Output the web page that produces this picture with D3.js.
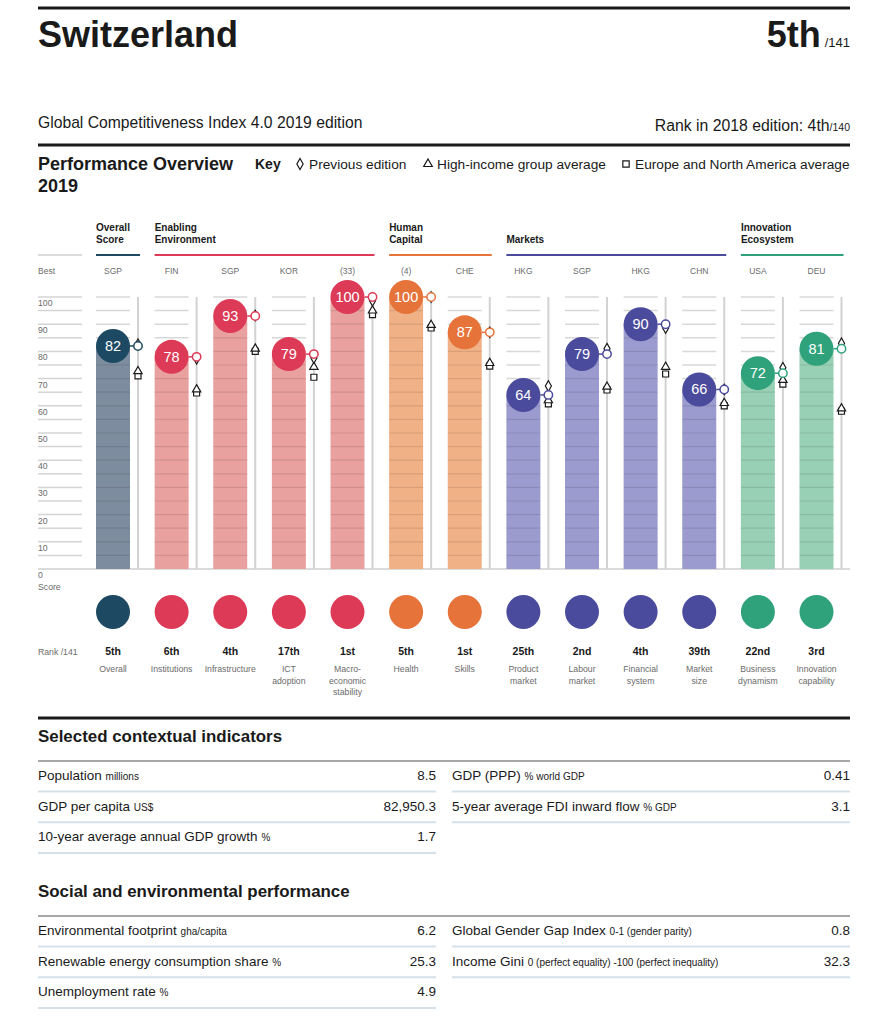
<!DOCTYPE html>
<html>
<head>
<meta charset="utf-8">
<script src="https://cdn.jsdelivr.net/npm/d3@7"></script>
<style>
  html, body { margin: 0; padding: 0; background: #ffffff; }
  svg { display: block; font-family: "Liberation Sans", Arial, Helvetica, sans-serif; }
</style>
</head>
<body>
<svg id="chart" width="887" height="1024"></svg>
<script>
// ---------------- DATA ----------------
const pillars = ["Overall", "Institutions", "Infrastructure", "ICT adoption", "Macroeconomic stability", "Health", "Skills", "Product market", "Labour market", "Financial system", "Market size", "Business dynamism", "Innovation capability"];
const pillarLabels = [["Overall"], ["Institutions"], ["Infrastructure"], ["ICT", "adoption"], ["Macro-", "economic", "stability"], ["Health"], ["Skills"], ["Product", "market"], ["Labour", "market"], ["Financial", "system"], ["Market", "size"], ["Business", "dynamism"], ["Innovation", "capability"]];
const pillarGroup = ["overall", "enabling", "enabling", "enabling", "enabling", "human", "human", "markets", "markets", "markets", "markets", "innovation", "innovation"];
const scores = [82, 78, 93, 79, 100, 100, 87, 64, 79, 90, 66, 72, 81];
const previousEdition = [82.6, 77.3, 93.2, 77.6, 98.6, 100, 87, 67.3, 81, 88.6, 66, 74, 83];
const highIncomeAvg = [72.7, 66, 81, 74.3, 95, 89.7, 75.7, 62, 67, 74.3, 61, 69.5, 59];
const europeNAAvg = [71, 64.7, 80, 70.5, 93.5, 88.6, 74.6, 60.7, 65.8, 71.7, 60, 68, 58];
const ranks = ["5th", "6th", "4th", "17th", "1st", "5th", "1st", "25th", "2nd", "4th", "39th", "22nd", "3rd"];
const bestPerformers = ["SGP", "FIN", "SGP", "KOR", "(33)", "(4)", "CHE", "HKG", "SGP", "HKG", "CHN", "USA", "DEU"];
const yTickValues = [0, 10, 20, 30, 40, 50, 60, 70, 80, 90, 100];
const gridValues = d3.range(5, 101, 5);

const groupKeys = ["overall", "enabling", "human", "markets", "innovation"];
const groupTitles = [["Overall", "Score"], ["Enabling", "Environment"], ["Human", "Capital"], ["Markets"], ["Innovation", "Ecosystem"]];
const groupDark = ["#1d4a62", "#dc3a56", "#e5733a", "#4b4b9d", "#2fa27c"];
const groupBar = ["#7e8c9f", "#e9a19f", "#f1b186", "#9b9bd0", "#98d0b5"];

const contextLeft = [["Population", "millions", "8.5"], ["GDP per capita", "US$", "82,950.3"], ["10-year average annual GDP growth", "%", "1.7"]];
const contextRight = [["GDP (PPP)", "% world GDP", "0.41"], ["5-year average FDI inward flow", "% GDP", "3.1"]];
const socialLeft = [["Environmental footprint", "gha/capita", "6.2"], ["Renewable energy consumption share", "%", "25.3"], ["Unemployment rate", "%", "4.9"]];
const socialRight = [["Global Gender Gap Index", "0-1 (gender parity)", "0.8"], ["Income Gini", "0 (perfect equality) -100 (perfect inequality)", "32.3"]];

// ---------------- LAYOUT ----------------
const svg = d3.select("#chart");
const L = 38, R = 850;
const ink = "#1a1a1a", grey = "#6b6b6b";
const gIdx = g => groupKeys.indexOf(g);

const x = d3.scalePoint().domain(pillars).range([113, 816.5]);
const y = d3.scaleLinear().domain([0, 100]).range([569, 297]);
const barW = 34, lineOff = 25;

// Header
svg.append("line").attr("x1", L).attr("x2", R).attr("y1", 8).attr("y2", 8).attr("stroke", ink).attr("stroke-width", 3);
svg.append("text").attr("x", L).attr("y", 47).attr("font-size", 36).attr("font-weight", "bold").attr("fill", ink).text("Switzerland");
const rk = svg.append("text").attr("x", R).attr("y", 47).attr("text-anchor", "end").attr("fill", ink);
rk.append("tspan").attr("font-size", 36).attr("font-weight", "bold").text("5th");
rk.append("tspan").attr("font-size", 13).attr("dx", 4).text("/141");

svg.append("text").attr("x", L).attr("y", 128).attr("font-size", 15.7).attr("fill", ink).text("Global Competitiveness Index 4.0 2019 edition");
const r18 = svg.append("text").attr("x", R).attr("y", 131).attr("text-anchor", "end").attr("fill", ink);
r18.append("tspan").attr("font-size", 15.8).text("Rank in 2018 edition: 4th");
r18.append("tspan").attr("font-size", 10.5).text("/140");

svg.append("line").attr("x1", L).attr("x2", R).attr("y1", 145).attr("y2", 145).attr("stroke", ink).attr("stroke-width", 3);
svg.append("text").attr("x", L).attr("y", 170).attr("font-size", 18).attr("font-weight", "bold").attr("fill", ink).text("Performance Overview");
svg.append("text").attr("x", L).attr("y", 192).attr("font-size", 18).attr("font-weight", "bold").attr("fill", ink).text("2019");

// Key
const keyY = 169;
svg.append("text").attr("x", 255).attr("y", keyY).attr("font-size", 14).attr("font-weight", "bold").attr("fill", ink).text("Key");
const keyItems = [
  { sym: d3.symbolDiamond, size: 34, x: 300, label: "Previous edition" },
  { sym: d3.symbolTriangle, size: 32, x: 428, label: "High-income group average" },
  { sym: d3.symbolSquare, size: 40, x: 626, label: "Europe and North America average" }
];
keyItems.forEach(k => {
  svg.append("path").attr("d", d3.symbol(k.sym, k.size)).attr("transform", `translate(${k.x},${keyY - 5})`)
    .attr("fill", "#fff").attr("stroke", ink).attr("stroke-width", 1.2);
  svg.append("text").attr("x", k.x + 9).attr("y", keyY).attr("font-size", 13.7).attr("fill", ink).text(k.label);
});

// Group headings
svg.append("line").attr("x1", L).attr("x2", 82).attr("y1", 255).attr("y2", 255).attr("stroke", "#cfcfcf").attr("stroke-width", 1.5);
groupKeys.forEach((g, gi) => {
  const members = pillars.filter((p, i) => pillarGroup[i] === g);
  const x1 = x(members[0]) - barW / 2, x2 = x(members[members.length - 1]) + lineOff + 2;
  svg.append("line").attr("x1", x1).attr("x2", x2).attr("y1", 255).attr("y2", 255).attr("stroke", groupDark[gi]).attr("stroke-width", 2);
  const lines = groupTitles[gi];
  lines.forEach((t, li) => {
    svg.append("text").attr("x", x1).attr("y", 243 - (lines.length - 1 - li) * 12)
      .attr("font-size", 10).attr("font-weight", "bold").attr("fill", ink).text(t);
  });
});

// Best row
svg.append("text").attr("x", L).attr("y", 274).attr("font-size", 8.5).attr("fill", grey).text("Best");
svg.selectAll(".best").data(pillars).enter().append("text")
  .attr("x", d => x(d)).attr("y", 274).attr("text-anchor", "middle")
  .attr("font-size", 8.5).attr("fill", grey).text((d, i) => bestPerformers[i]);

// Left axis
const axisG = svg.append("g");
axisG.selectAll("line.grid").data(gridValues).enter().append("line")
  .attr("x1", L).attr("x2", 82).attr("y1", d => y(d)).attr("y2", d => y(d))
  .attr("stroke", "#d4d4d4").attr("stroke-width", 1.5);
axisG.selectAll("text").data(yTickValues).enter().append("text")
  .attr("x", L).attr("y", d => y(d) + 9).attr("font-size", 8.7).attr("fill", grey).text(d => d);
svg.append("text").attr("x", L).attr("y", 590).attr("font-size", 8.7).attr("fill", grey).text("Score");

// Baseline
svg.append("line").attr("x1", L).attr("x2", R).attr("y1", y(0)).attr("y2", y(0)).attr("stroke", "#cfcfcf").attr("stroke-width", 1.5);

// Columns
pillars.forEach((p, i) => {
  const gi = gIdx(pillarGroup[i]);
  const cx = x(p), lx = cx + lineOff;
  const col = svg.append("g");
  col.append("line").attr("x1", lx).attr("x2", lx).attr("y1", y(100)).attr("y2", y(0))
    .attr("stroke", "#d2d2d2").attr("stroke-width", 2);
  col.selectAll("line.up").data(gridValues.filter(v => v > scores[i])).enter().append("line")
    .attr("x1", cx - barW / 2).attr("x2", cx + barW / 2).attr("y1", d => y(d)).attr("y2", d => y(d))
    .attr("stroke", "#d8d8d8").attr("stroke-width", 1.5);
  col.append("rect").attr("x", cx - barW / 2).attr("width", barW)
    .attr("y", y(scores[i])).attr("height", y(0) - y(scores[i])).attr("fill", groupBar[gi]);
  col.selectAll("line.in").data(gridValues.filter(v => v < scores[i])).enter().append("line")
    .attr("x1", cx - barW / 2).attr("x2", cx + barW / 2).attr("y1", d => y(d)).attr("y2", d => y(d))
    .attr("stroke", "rgba(0,0,0,0.10)").attr("stroke-width", 1.2);
  col.append("path").attr("d", d3.symbol(d3.symbolSquare, 36)).attr("transform", `translate(${lx},${y(europeNAAvg[i])})`)
    .attr("fill", "#fff").attr("stroke", ink).attr("stroke-width", 1.2);
  col.append("path").attr("d", d3.symbol(d3.symbolTriangle, 30)).attr("transform", `translate(${lx},${y(highIncomeAvg[i])})`)
    .attr("fill", "#fff").attr("stroke", ink).attr("stroke-width", 1.2);
  col.append("path").attr("d", d3.symbol(d3.symbolDiamond, 32)).attr("transform", `translate(${lx},${y(previousEdition[i])})`)
    .attr("fill", "#fff").attr("stroke", ink).attr("stroke-width", 1.2);
  col.append("line").attr("x1", cx + 17).attr("x2", lx - 4).attr("y1", y(scores[i])).attr("y2", y(scores[i]))
    .attr("stroke", groupDark[gi]).attr("stroke-width", 1.5);
  col.append("circle").attr("cx", lx).attr("cy", y(scores[i])).attr("r", 4.2)
    .attr("fill", "#fff").attr("stroke", groupDark[gi]).attr("stroke-width", 1.5);
  col.append("circle").attr("cx", cx).attr("cy", y(scores[i])).attr("r", 17).attr("fill", groupDark[gi]);
  col.append("text").attr("x", cx).attr("y", y(scores[i]) + 5).attr("text-anchor", "middle")
    .attr("font-size", 14.5).attr("fill", "#fff").text(scores[i]);
  col.append("circle").attr("cx", cx).attr("cy", 612).attr("r", 17).attr("fill", groupDark[gi]);
  col.append("text").attr("x", cx).attr("y", 655).attr("text-anchor", "middle")
    .attr("font-size", 10.5).attr("font-weight", "bold").attr("fill", ink).text(ranks[i]);
  pillarLabels[i].forEach((t, li) => {
    col.append("text").attr("x", cx).attr("y", 672 + li * 11.5).attr("text-anchor", "middle")
      .attr("font-size", 8.7).attr("fill", grey).text(t);
  });
});
svg.append("text").attr("x", L).attr("y", 655).attr("font-size", 8.7).attr("fill", grey).text("Rank /141");

// ---------------- TABLES ----------------
function table(title, titleY, topY, left, right) {
  svg.append("text").attr("x", L).attr("y", titleY).attr("font-size", 16.9).attr("font-weight", "bold").attr("fill", ink).text(title);
  svg.append("line").attr("x1", L).attr("x2", R).attr("y1", topY).attr("y2", topY).attr("stroke", "#a8a8a8").attr("stroke-width", 2);
  const rowH = 30.7;
  [[left, L, 436], [right, 452, R]].forEach(([rows, x0, x1]) => {
    rows.forEach((r, ri) => {
      const ty = topY + 19 + ri * rowH;
      const t = svg.append("text").attr("x", x0).attr("y", ty).attr("fill", ink);
      t.append("tspan").attr("font-size", 13.5).text(r[0] + " ");
      t.append("tspan").attr("font-size", 10).text(r[1]);
      svg.append("text").attr("x", x1).attr("y", ty).attr("text-anchor", "end").attr("font-size", 13.5).attr("fill", ink).text(r[2]);
      const sy = topY + 30.5 + ri * rowH;
      svg.append("line").attr("x1", x0).attr("x2", x1).attr("y1", sy).attr("y2", sy).attr("stroke", "#d5e1ea").attr("stroke-width", 2);
    });
  });
}
svg.append("line").attr("x1", L).attr("x2", R).attr("y1", 718).attr("y2", 718).attr("stroke", ink).attr("stroke-width", 3);
table("Selected contextual indicators", 742, 761, contextLeft, contextRight);
table("Social and environmental performance", 897, 916, socialLeft, socialRight);
</script>
</body>
</html>
